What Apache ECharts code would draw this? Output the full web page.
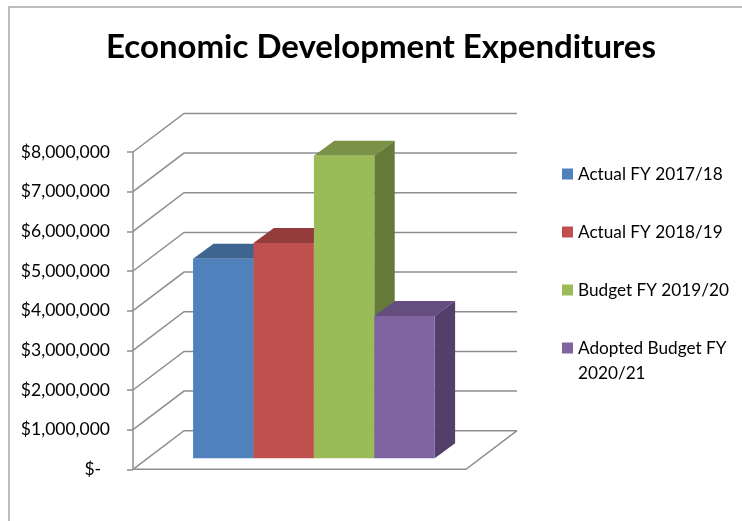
<!DOCTYPE html>
<html>
<head>
<meta charset="utf-8">
<style>html,body{margin:0;padding:0;background:#fff}#chart{width:742px;height:521px}</style>
<script src="https://cdn.jsdelivr.net/npm/echarts@6/dist/echarts.min.js"></script>
</head>
<body>
<div id="chart"></div>
<script>
// Fiscal year budget lines and their spending in dollars
const seriesNames = ['Actual FY 2017/18', 'Actual FY 2018/19', 'Budget FY 2019/20', 'Adopted Budget FY\n2020/21'];
const expenditures = [5030000, 5430000, 7630000, 3590000];
const yTicks = [0, 1000000, 2000000, 3000000, 4000000, 5000000, 6000000, 7000000, 8000000];

// Face colours of each column: front, top, side
const frontColors = ['#4F81BD', '#C0504D', '#9BBB59', '#8064A2'];
const topColors = ['#3E648F', '#943C3B', '#799247', '#644E7F'];
const sideColors = ['#335273', '#7A3130', '#657A39', '#523F6A'];

// Oblique projection used for the pseudo-3D box
const WALL_DX = 51, WALL_DY = 38.6;
const BAR_OFFSET_X = 14.4, BAR_OFFSET_Y = 11;
const BAR_DX = 20.4, BAR_DY = 15;
const GAP_FRACTION = 0.1372, BAR_FRACTION = 0.1814;
const GRID_COLOR = '#8E8E8E';
const FONT = 'Lato';
const LEGEND_LINE = 25;

const lineStyle = { stroke: GRID_COLOR, lineWidth: 1.5, fill: null };

function renderWallLine(params, api) {
  const left = api.coord([0, api.value(0)]);
  const right = api.coord([1, api.value(0)]);
  const children = [{
    type: 'polyline',
    shape: { points: [left, [left[0] + WALL_DX, left[1] - WALL_DY], [right[0] + WALL_DX, right[1] - WALL_DY]] },
    style: lineStyle
  }];
  if (api.value(0) === 0) {
    // Floor: front edge and right edge
    children.push({
      type: 'polyline',
      shape: { points: [left, right, [right[0] + WALL_DX, right[1] - WALL_DY]] },
      style: lineStyle
    });
  }
  return { type: 'group', children };
}

function makeColumnRenderer(index) {
  return function (params, api) {
    const xStart = GAP_FRACTION + index * BAR_FRACTION;
    const base = api.coord([xStart, 0]);
    const top = api.coord([xStart, api.value(0)]);
    const right = api.coord([xStart + BAR_FRACTION, 0])[0] + BAR_OFFSET_X;
    const left = base[0] + BAR_OFFSET_X;
    const y0 = base[1] - BAR_OFFSET_Y;
    const y1 = top[1] - BAR_OFFSET_Y;
    const face = (points, fill) => ({ type: 'polygon', shape: { points }, style: { fill } });
    return {
      type: 'group',
      children: [
        face([[left, y1], [left + BAR_DX, y1 - BAR_DY], [right + BAR_DX, y1 - BAR_DY], [right, y1]], topColors[index]),
        face([[right, y1], [right + BAR_DX, y1 - BAR_DY], [right + BAR_DX, y0 - BAR_DY], [right, y0]], sideColors[index]),
        face([[left, y1], [right, y1], [right, y0], [left, y0]], frontColors[index])
      ]
    };
  };
}

// Legend entries are padded to three lines so the swatch stays level with the first line of text
function legendText(name) {
  const lines = name.split('\n');
  return [' ', lines[0], lines[1] || ' '].join('\n');
}

const columnSeries = seriesNames.map((name, i) => ({
  type: 'custom',
  name,
  coordinateSystem: 'cartesian2d',
  renderItem: makeColumnRenderer(i),
  encode: { y: 0 },
  itemStyle: { color: frontColors[i] },
  data: [[expenditures[i]]],
  z: 3 + i
}));

const chart = echarts.init(document.getElementById('chart'), null, { renderer: 'canvas' });
chart.setOption({
  animation: false,
  backgroundColor: '#fff',
  title: {
    text: 'Economic Development Expenditures',
    left: 376,
    top: 26,
    textAlign: 'center',
    textStyle: { fontFamily: FONT, fontSize: 33, fontWeight: 'bold', color: '#000' }
  },
  graphic: [{
    type: 'rect',
    shape: { x: 9, y: 7, width: 900, height: 700 },
    style: { fill: null, stroke: '#A6A6A6', lineWidth: 1.5 },
    silent: true,
    z: -1
  }],
  legend: {
    orient: 'vertical',
    left: 562,
    top: 136.5,
    padding: 0,
    icon: 'rect',
    itemWidth: 11,
    itemHeight: 11,
    itemGap: 58 - 3 * LEGEND_LINE,
    selectedMode: false,
    formatter: legendText,
    textStyle: { fontFamily: FONT, fontSize: 17.2, color: '#000', lineHeight: LEGEND_LINE },
    data: seriesNames
  },
  grid: { left: 133, top: 152, width: 333, height: 317.3 },
  xAxis: { type: 'value', min: 0, max: 1, show: false },
  yAxis: {
    type: 'value',
    min: yTicks[0],
    max: yTicks[yTicks.length - 1],
    interval: yTicks[1] - yTicks[0],
    axisLine: { show: true, lineStyle: { color: GRID_COLOR, width: 1.5 } },
    axisTick: { show: true, length: 6, lineStyle: { color: GRID_COLOR, width: 1.5 } },
    splitLine: { show: false },
    axisLabel: {
      margin: 23,
      fontFamily: FONT,
      fontSize: 17.5,
      color: '#000',
      formatter: v => v === 0 ? '$-  ' : '$' + v.toLocaleString('en-US')
    }
  },
  series: [{
    type: 'custom',
    coordinateSystem: 'cartesian2d',
    renderItem: renderWallLine,
    encode: { y: 0 },
    silent: true,
    data: yTicks.map(v => [v]),
    z: 1
  }].concat(columnSeries)
});
</script>
</body>
</html>
